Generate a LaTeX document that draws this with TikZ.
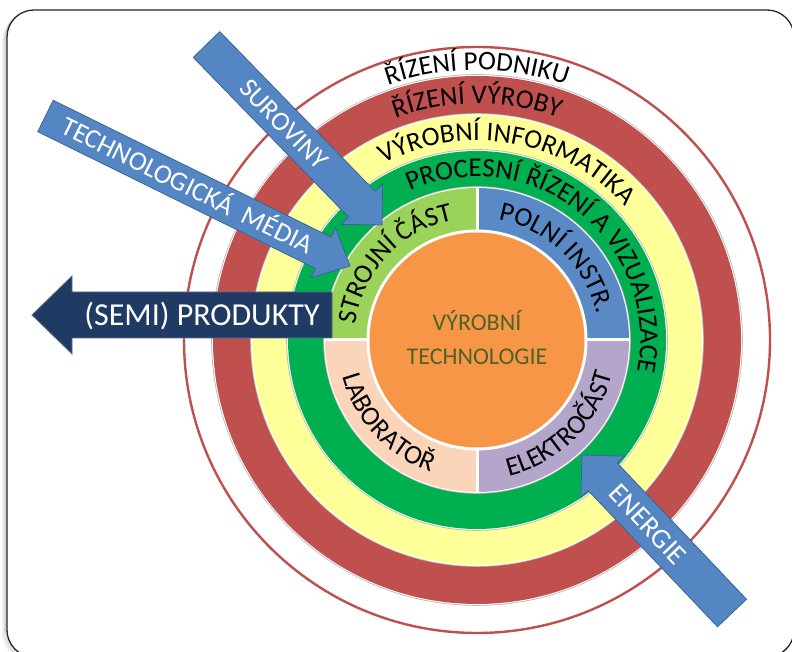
\documentclass[tikz,border=0pt]{standalone}
\usepackage{fontspec}
\setmainfont{Carlito}
\usetikzlibrary{calc,decorations.text}

\definecolor{ringred}{HTML}{C0504D}
\definecolor{ringyellow}{HTML}{FFFF99}
\definecolor{ringgreen}{HTML}{00B050}
\definecolor{qgreen}{HTML}{9BD25A}
\definecolor{qblue}{HTML}{5A8AC6}
\definecolor{qlilac}{HTML}{B4A5CB}
\definecolor{qpeach}{HTML}{FBD5B9}
\definecolor{core}{HTML}{F79646}
\definecolor{coretext}{HTML}{4F6228}
\definecolor{flowblue}{HTML}{5586C4}
\definecolor{flowedge}{HTML}{3A6498}
\definecolor{navy}{HTML}{1F3B64}

% font used for the ring labels
\newcommand\rf{\fontsize{27}{32}\selectfont}

% filled disk with a thin white rim and a faint grey edge
\newcommand\ringdisk[2]{%
  \fill[black!28] (C) circle[radius=#1+1.8];
  \fill[white] (C) circle[radius=#1+1];
  \fill[#2] (C) circle[radius=#1];}

% text set along a circular arc around C: radius, start angle, end angle, text
\newcommand\arclabel[4]{%
  \path[decorate, decoration={text along path, text align=center,
        text={|\rf|#4}}]
    ($(C)+(#2:#1)$) arc[start angle=#2, end angle=#3, radius=#1];}

% block arrow between the named coordinates <name>-tail and <name>-tip:
% name, shaft half-width, head half-width, head length, style
\newcommand\blockarrow[5]{%
  \coordinate (#1-b) at ($(#1-tip)!#4!(#1-tail)$);
  \path[#5] ($(#1-tail)!#2!90:(#1-tip)$) -- ($(#1-b)!#2!90:(#1-tip)$)
    -- ($(#1-b)!#3!90:(#1-tip)$) -- (#1-tip)
    -- ($(#1-b)!#3!-90:(#1-tip)$) -- ($(#1-b)!#2!-90:(#1-tip)$)
    -- ($(#1-tail)!#2!-90:(#1-tip)$) -- cycle;}

\tikzset{
  flow/.style={fill=flowblue, draw=flowedge, line width=0.8pt, line join=miter},
  outflow/.style={fill=navy, draw=navy!75!white, line width=0.8pt, line join=miter},
  % capital letters centred on the shaft: #1 is the font size in pt
  flowtext/.style={text=white, font=\fontsize{#1}{#1}\selectfont,
    text height=0.644*#1 pt, text depth=0pt, inner sep=0pt, anchor=center},
}

\begin{document}
\begin{tikzpicture}[x=1pt,y=1pt]
\useasboundingbox (0,0) rectangle (792,652);
\begin{scope}
\clip (0,0) rectangle (792,652);

% soft shadow and rounded frame
\foreach \d/\o in {4/0.04,3/0.06,2/0.08,1/0.11}
  \draw[black, opacity=\o, line width=1.6pt, rounded corners=27pt]
    (7-\d,642-\d) rectangle (794-\d,-5-\d);
\draw[black!85, line width=1.3pt, rounded corners=27pt, fill=white]
  (7,642) rectangle (794,-5);

\coordinate (C) at (477,312);

% concentric rings
\draw[ringred, line width=2.4pt, fill=white] (C) circle[radius=293];
\ringdisk{264}{ringred}
\ringdisk{225}{ringyellow}
\ringdisk{189}{ringgreen}

% quadrant ring
\fill[black!28] (C) circle[radius=153.8];
\fill[white] (C) circle[radius=153];
\fill[qblue]  (C) -- ++(0:152)   arc[start angle=0,   end angle=90,  radius=152] -- cycle;
\fill[qgreen] (C) -- ++(90:152)  arc[start angle=90,  end angle=180, radius=152] -- cycle;
\fill[qpeach] (C) -- ++(180:152) arc[start angle=180, end angle=270, radius=152] -- cycle;
\fill[qlilac] (C) -- ++(270:152) arc[start angle=270, end angle=360, radius=152] -- cycle;
\draw[white, line width=3pt] ($(C)+(-153,0)$) -- ($(C)+(153,0)$);
\draw[white, line width=3pt] ($(C)+(0,-153)$) -- ($(C)+(0,153)$);

% core
\fill[white] (C) circle[radius=110.5];
\fill[core] (C) circle[radius=107.5];
\node[coretext, font=\fontsize{24}{34}\selectfont, align=center, inner sep=0pt]
  (core) at ($(C)+(0,2.5)$) {VÝROBNÍ\\TECHNOLOGIE};

% ring labels
\arclabel{270}{150}{30}{ŘÍZENÍ PODNIKU}
\arclabel{236.3}{150}{30}{ŘÍZENÍ VÝROBY}
\arclabel{199.3}{150}{10}{VÝROBNÍ INFORMATIKA}
\arclabel{163.3}{131.5}{-28.5}{PROCESNÍ ŘÍZENÍ A VIZUALIZACE}
\arclabel{122.3}{182}{92}{STROJNÍ ČÁST}
\arclabel{122.3}{91}{1}{POLNÍ INSTR.}
\arclabel{139.7}{178}{268}{LABORATOŘ}
\arclabel{139.7}{-90.5}{-0.5}{ELEKTROČÁST}

% flows in and out
\coordinate (suro-tail) at (206.5,607.5);
\coordinate (suro-tip)  at (382,427);
\coordinate (tech-tail) at (45.5,536);
\coordinate (tech-tip)  at (350,386);
\coordinate (semi-tail) at (332,337);
\coordinate (semi-tip)  at (32,337);
\coordinate (ener-tail) at (732,39);
\coordinate (ener-tip)  at (582,197);

\blockarrow{suro}{18.5pt}{29pt}{29pt}{flow}
\blockarrow{tech}{17.5pt}{28pt}{30pt}{flow}
\blockarrow{semi}{23pt}{39pt}{40pt}{outflow}
\blockarrow{ener}{20pt}{30pt}{30pt}{flow}

\path (suro-tail) -- (suro-b)
  node[flowtext=27, sloped, pos=0.5] (suro-label) {SUROVINY};
\path (tech-tail) -- (tech-b)
  node[flowtext=27, sloped, pos=0.51] (tech-label) {TECHNOLOGICKÁ\hspace{0.45em}MÉDIA};
\path (semi-tail) -- (semi-b)
  node[flowtext=32, sloped, pos=0.5] (semi-label) {(SEMI) PRODUKTY};
\path (ener-b) -- (ener-tail)
  node[flowtext=28, sloped, pos=0.35] (ener-label) {ENERGIE};
\end{scope}
\end{tikzpicture}
\end{document}
